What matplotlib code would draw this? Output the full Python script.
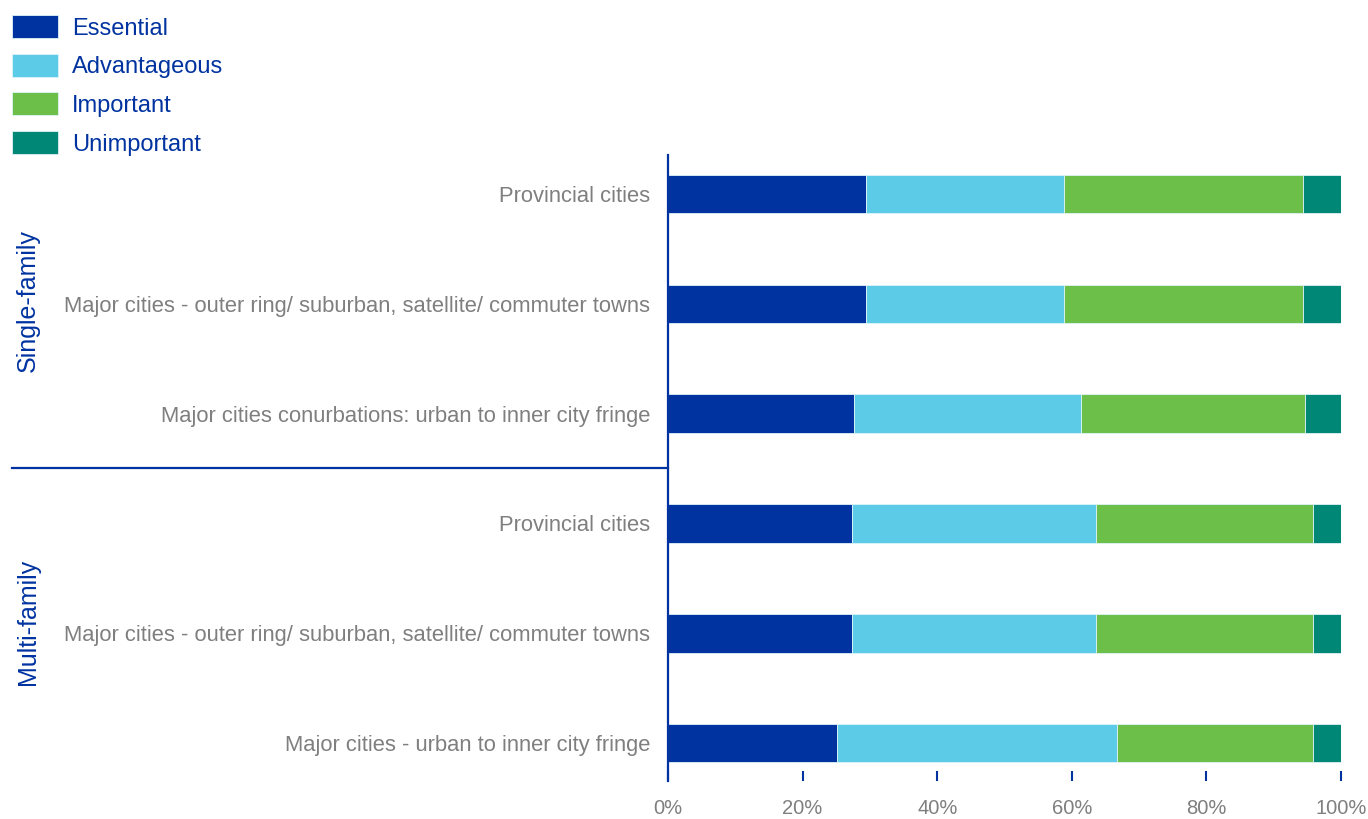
import matplotlib.pyplot as plt
import numpy as np

# survey shares (%) per location type
rows = ["Provincial cities",
        "Major cities - outer ring/ suburban, satellite/ commuter towns",
        "Major cities conurbations: urban to inner city fringe",
        "Provincial cities",
        "Major cities - outer ring/ suburban, satellite/ commuter towns",
        "Major cities - urban to inner city fringe"]
groups = ["Single-family", "Multi-family"]
essential = [29.4, 29.4, 27.7, 27.3, 27.3, 25.1]
advantageous = [29.5, 29.5, 33.6, 36.3, 36.3, 41.6]
important = [35.4, 35.4, 33.3, 32.2, 32.2, 29.2]
unimportant = [5.7, 5.7, 5.4, 4.2, 4.2, 4.1]
ticks = [0, 20, 40, 60, 80, 100]

series = [("Essential", essential, "#0033a0"),
          ("Advantageous", advantageous, "#5bcbe8"),
          ("Important", important, "#6cc04a"),
          ("Unimportant", unimportant, "#008775")]

blue = "#0033a0"
grey = "#7f7f7f"
plt.rcParams["font.family"] = ["Liberation Sans", "DejaVu Sans"]

fig = plt.figure(figsize=(13.68, 8.19), dpi=100)
ax = fig.add_axes([668 / 1368, 1 - 781 / 819, 673 / 1368, 626 / 819])

y = np.arange(len(rows))
left = np.zeros(len(rows))
handles = []
for name, vals, col in series:
    b = ax.barh(y, vals, left=left, height=0.35, color=col,
                edgecolor="#dff3f8", linewidth=0.6, label=name)
    handles.append(b)
    left += np.array(vals)

ax.set_ylim(len(rows) - 1 + 0.345, -0.355)
ax.set_xlim(0, 100)
ax.set_yticks(y)
ax.set_yticklabels(rows, fontsize=15.8, color=grey)
ax.tick_params(axis="y", length=0, pad=13)
ax.set_xticks(ticks)
ax.set_xticklabels([f"{t}%" for t in ticks], fontsize=14.5, color=grey)
ax.tick_params(axis="x", direction="in", length=7.5, width=1.5, color=blue, pad=13)

for s in ["top", "right", "bottom"]:
    ax.spines[s].set_visible(False)
ax.spines["left"].set_color(blue)
ax.spines["left"].set_linewidth(1.6)

# divider between the two building types
fig.add_artist(plt.Line2D([12 / 1368, 668 / 1368], [1 - 468 / 819] * 2,
                          color=blue, lw=1.6))
fig.text(28 / 1368, 1 - 301 / 819, groups[0], rotation=90, color=blue,
         fontsize=18, ha="center", va="center")
fig.text(28 / 1368, 1 - 622 / 819, groups[1], rotation=90, color=blue,
         fontsize=18, ha="center", va="center")

fig.legend(handles=handles, loc="upper left",
           bbox_to_anchor=(12 / 1368, 1 - 15 / 819), frameon=False,
           fontsize=17, labelcolor=blue, handlelength=1.95, handleheight=1.12,
           handletextpad=0.6, labelspacing=0.6, borderpad=0, borderaxespad=0)

fig.savefig("out.png", dpi=100)
